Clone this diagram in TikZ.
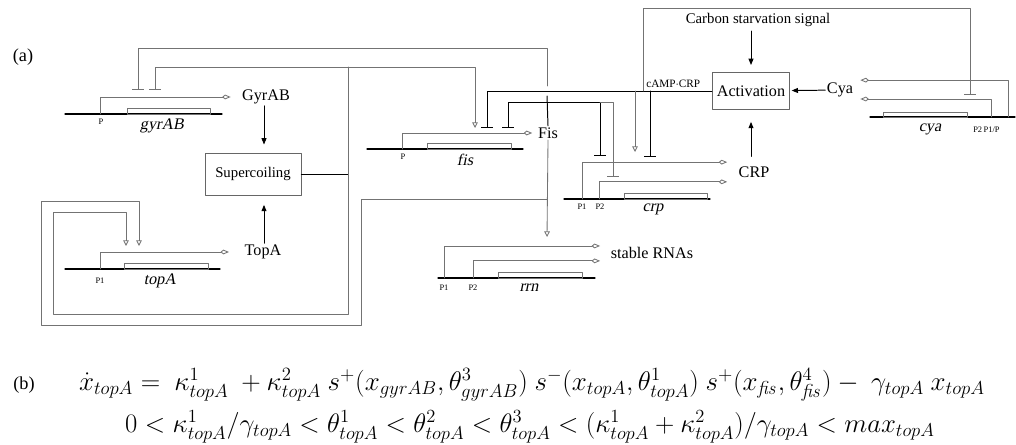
\documentclass[tikz,border=0pt]{standalone}
\usepackage[no-math]{fontspec}
\setmainfont{Liberation Serif}
\newfontfamily\gitf{Liberation Serif}[FakeSlant=0.2]
\usepackage{amsmath}
\usetikzlibrary{arrows.meta}
\tikzset{
  bx/.style={draw=black!60,line width=0.6pt,minimum width=2.4cm,minimum height=1.05cm,
             font=\fontsize{10.5}{12}\selectfont},
  lb/.style={inner sep=1pt,font=\fontsize{11.5}{13}\selectfont},
  sm/.style={inner sep=0pt,font=\fontsize{6}{7}\selectfont},
  gn/.style={inner sep=0pt,font=\fontsize{11.5}{13}\selectfont\gitf},
  dna/.style={line width=0.8pt},
  gbox/.style={draw=black!55,line width=0.6pt},
  ln/.style={draw=black!55,line width=0.6pt},
  bk/.style={line width=0.7pt},
  prod/.style={ln,-{Kite[open,length=6pt,width=3.4pt,inset=2pt]}},
  act/.style={ln,-{Triangle[open,length=4pt,width=4pt]}},
  proc/.style={bk,-{Triangle[length=4.5pt,width=3.5pt]}},
  eq/.style={inner sep=0pt,font=\fontsize{17}{20}\selectfont},
  every picture/.style={line cap=round,line join=round}}

\begin{document}
\begin{tikzpicture}[x=0.025cm,y=-0.025cm]
  \useasboundingbox (0,0) rectangle (1016,445);
  \node[lb,font=\fontsize{13}{15}\selectfont] (la) at (23,57) {(a)};
  % boxes and products
  \node[bx] (sc) at (253,174) {Supercoiling};
  \node[bx,minimum width=1.85cm,minimum height=0.925cm,font=\fontsize{11.5}{13}\selectfont] (ac) at (751,91) {Activation};
  \node[lb] (gyr) at (266,97) {GyrAB};
  \node[lb] (top) at (263,252) {TopA};
  \node[lb] (fis) at (548,133) {Fis};
  \node[lb] (crp) at (754,172) {CRP};
  \node[lb] (cya) at (840,90) {Cya};
  \node[lb] (rna) at (652,253) {stable RNAs};
  \node[lb,font=\fontsize{10.5}{12}\selectfont] (cs) at (758,20) {Carbon starvation signal};
  \node[sm,font=\fontsize{8}{9}\selectfont,anchor=south west] (camp) at (646,88) {cAMP$\cdot$CRP};
  % gyrAB
  \draw[dna] (65,114) -- (222,114); \draw[gbox] (127,108) rectangle (210,114);
  \coordinate (pg) at (100,114); \draw[prod] (pg) |- ([xshift=-7pt]gyr.west);
  \node[sm] (pgl) at (101,122) {P}; \node[gn] (gyrg) at (162,126) {gyrAB};
  % topA
  \draw[dna] (65,269) -- (220,269); \draw[gbox] (124,263) rectangle (208,269);
  \coordinate (pt) at (100,269); \draw[prod] (pt) |- ([xshift=-10pt]top.west);
  \node[sm] (ptl) at (100,281) {P1}; \node[gn] (topg) at (160,281) {topA};
  % fis
  \draw[dna] (367,149) -- (523,149); \draw[gbox] (427,143) rectangle (511,149);
  \coordinate (pf) at (402,149); \draw[prod] (pf) |- ([xshift=-3pt]fis.west);
  \node[sm] (pfl) at (403,157) {P}; \node[gn] (fisg) at (465,160) {fis};
  % crp
  \draw[dna] (564,199) -- (710,199); \draw[gbox] (624,193) rectangle (707,199);
  \coordinate (pc1) at (582,199); \coordinate (pc2) at (599,199);
  \draw[prod] (pc1) |- ([xshift=-7pt,yshift=7pt]crp.west);
  \draw[prod] (pc2) |- ([xshift=-7pt,yshift=-7pt]crp.west);
  \node[sm] (pc1l) at (582,207) {P1}; \node[sm] (pc2l) at (600,207) {P2};
  \node[gn] (crpg) at (653,209) {crp};
  % cya
  \draw[dna] (870,117) -- (1015,117); \draw[gbox] (883,112) rectangle (967,117);
  \coordinate (py1) at (1008,117); \coordinate (py2) at (991,117);
  \draw[prod] (py1) |- ([xshift=4pt,yshift=7pt]cya.east);
  \draw[prod] (py2) |- ([xshift=4pt,yshift=-6.4pt]cya.east);
  \node[gn] (cyag) at (930,129) {cya};
  \node[sm,anchor=west] (pyl) at (973,130) {P2\,P1/P};
  % rrn
  \draw[dna] (438,278) -- (595,278); \draw[gbox] (498,272) rectangle (582,278);
  \coordinate (pr1) at (444,278); \coordinate (pr2) at (473,278);
  \draw[prod] (pr1) |- ([xshift=-6.5pt,yshift=5pt]rna.west);
  \draw[prod] (pr2) |- ([xshift=-6.5pt,yshift=-5.6pt]rna.west);
  \node[sm] (pr1l) at (444,288) {P1}; \node[sm] (pr2l) at (473,288) {P2};
  \node[gn] (rrng) at (529,288) {rrn};
  % supercoiling
  \draw[proc,shorten >=6pt] (gyr.south -| 264,0) -- (264,153);
  \draw[proc,shorten >=7pt] (top.north -| 264,0) -- (264,195);
  \draw[bk] (sc.east) -- (348,174);
  \draw[ln,{Bar[width=8pt]}-{Triangle[open,length=4pt,width=4pt]}] (155,90) |- (475,67) -- (475,128);
  \draw[act] (348,67) -- (348,314) -| (53,212) -| (126,246);
  % Fis
  \draw[bk] (fis.north) -- (547,96);
  \draw[ln,-{Bar[width=8pt]}] (547,86) -- (547,48) -| (138,90);
  \draw[act] (fis.south) -- (547,237);
  \draw[act] (547,199) -| (361,325) -| (41,201) -| (139,246);
  \draw[bk,{Bar[width=8pt]}-{Bar[width=8pt]}] (508,128) |- (600,102) -- (600,156);
  \draw[ln,-{Bar[width=8pt]}] (600,102) -| (613,177);
  % cAMP-CRP
  \draw[bk,{Bar[width=8pt]}-] (487,128) |- (ac.west);
  \draw[act] (635,91) -- (635,152);
  \draw[bk,-{Bar[width=8pt]}] (650,91) -- (650,157);
  \draw[ln,-{Bar[width=8pt]}] (643,91) |- (970,8) -- (970,95);
  % activation
  \draw[proc,shorten >=5pt,shorten <=2pt] (cs.south -| ac) -- (ac.north);
  \draw[proc,shorten >=1pt] (cya) -- (ac);
  \draw[proc,shorten >=8.5pt,shorten <=6pt] (crp.north -| ac) -- (ac.south);
  % (b)
  \node[lb,font=\fontsize{13}{15}\selectfont] (lbb) at (24,385) {(b)};
  \node[eq,scale=1.11] (eq1) at (532,385)
    {$\dot{x}_{topA}=\ \kappa^1_{topA}\ +\kappa^2_{topA}\ s^+(x_{gyrAB},\theta^3_{gyrAB})\ s^-(x_{topA},\theta^1_{topA})\ s^+(x_{\mathit{fis}},\theta^4_{\mathit{fis}})-\ \gamma_{topA}\ x_{topA}$};
  \node[eq,scale=1.1] (eq2) at (530,427)
    {$0<\kappa^1_{topA}/\gamma_{topA}<\theta^1_{topA}<\theta^2_{topA}<\theta^3_{topA}<(\kappa^1_{topA}+\kappa^2_{topA})/\gamma_{topA}<max_{topA}$};
\end{tikzpicture}
\end{document}
